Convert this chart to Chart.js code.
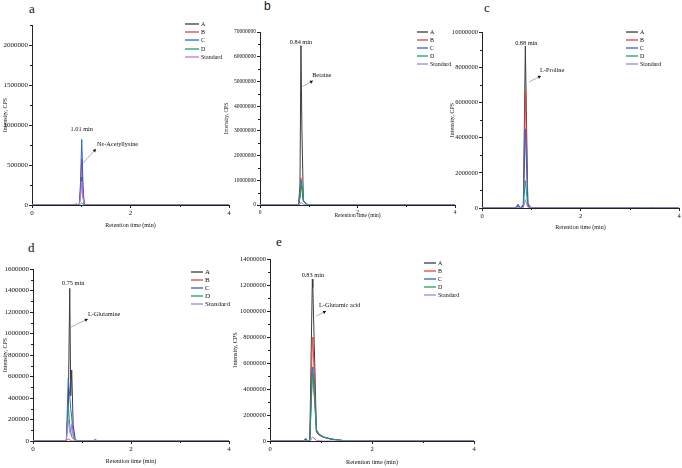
<!DOCTYPE html>
<html><head><meta charset="utf-8">
<script src="https://cdn.jsdelivr.net/npm/chart.js@4.4.0/dist/chart.umd.min.js"></script>
<style>
html,body{margin:0;padding:0;background:#fff;width:682px;height:468px;overflow:hidden;position:relative;font-family:'Liberation Serif',serif}
canvas{position:absolute}
.lbl{position:absolute;font-family:'Liberation Serif',serif;font-size:13px;color:#111;line-height:1}
</style></head><body>
<div class="lbl" style="left:29px;top:2px">a</div>
<div class="lbl" style="left:264px;top:0px;font-family:'Liberation Sans',sans-serif;font-size:12px">b</div>
<div class="lbl" style="left:484px;top:1px">c</div>
<div class="lbl" style="left:28px;top:241px">d</div>
<div class="lbl" style="left:276px;top:235px">e</div>
<script>
// ---- series names ----
const names = ['A', 'B', 'C', 'D', 'Standard'];
const xTicks = [0, 2, 4];

// ---- panel a : Nε-Acetyllysine ----
const timeA = [0, 0.86, 0.9, 0.93, 0.96, 0.985, 1.01, 1.035, 1.06, 1.09, 4];
const aA = [0, 0, 15000, 0, 0, 120000, 350000, 110000, 0, 0, 0];
const aB = [0, 0, 0, 0, 0, 190000, 570000, 180000, 0, 0, 0];
const aC = [0, 0, 0, 0, 0, 280000, 820000, 260000, 0, 0, 0];
const aD = [0, 0, 0, 0, 0, 10000, 25000, 10000, 0, 0, 0];
const aS = [0, 0, 0, 0, 0, 100000, 300000, 100000, 0, 0, 0];
const yTicksA = [0, 500000, 1000000, 1500000, 2000000];

// ---- panel b : Betaine ----
const timeB = [0, 0.79, 0.82, 0.84, 0.86, 0.89, 0.92, 0.96, 1.0, 1.1, 4];
const bA = [0, 0, 8e6, 64.5e6, 30e6, 1.5e6, 0.8e6, 0.3e6, 0.1e6, 0, 0];
const bB = [0, 0, 4e6, 11e6, 6e6, 1.8e6, 1.0e6, 0.3e6, 0.1e6, 0, 0];
const bC = [0, 0, 3e6, 9.8e6, 7e6, 1.6e6, 0.9e6, 0.3e6, 0.1e6, 0, 0];
const bD = [0, 0, 3e6, 9e6, 8e6, 2e6, 1e6, 0.3e6, 0.1e6, 0, 0];
const bS = [0, 0, 0.3e6, 1e6, 0.8e6, 0.3e6, 0.1e6, 0, 0, 0, 0];
const yTicksB = [0, 10000000, 20000000, 30000000, 40000000, 50000000, 60000000, 70000000];

// ---- panel c : L-Proline ----
const timeC = [0, 0.68, 0.73, 0.78, 0.84, 0.88, 0.93, 0.97, 1.05, 3.05, 3.1, 3.15, 3.4, 3.45, 3.5, 4];
const cA = [0, 0, 150000, 0, 200000, 9200000, 300000, 60000, 0, 0, 0, 0, 0, 0, 0, 0];
const cB = [0, 0, 100000, 0, 150000, 6700000, 250000, 50000, 0, 0, 0, 0, 0, 40000, 0, 0];
const cC = [0, 0, 220000, 0, 120000, 4500000, 200000, 40000, 0, 0, 30000, 0, 0, 0, 0, 0];
const cD = [0, 0, 80000, 0, 60000, 1550000, 100000, 20000, 0, 0, 0, 0, 0, 0, 0, 0];
const cS = [0, 0, 50000, 0, 20000, 480000, 40000, 10000, 0, 0, 0, 0, 0, 0, 0, 0];
const yTicksC = [0, 2000000, 4000000, 6000000, 8000000, 10000000];

// ---- panel d : L-Glutamine ----
const timeD = [0, 0.68, 0.72, 0.75, 0.77, 0.79, 0.82, 0.86, 0.9, 0.95, 1.22, 1.27, 1.32, 4];
const dA = [0, 0, 300000, 1420000, 420000, 660000, 150000, 20000, 0, 0, 0, 0, 0, 0];
const dB = [0, 0, 20000, 10000, 5000, 0, 0, 0, 0, 0, 0, 0, 0, 0];
const dC = [0, 0, 580000, 420000, 300000, 220000, 60000, 10000, 0, 0, 0, 0, 0, 0];
const dD = [0, 0, 330000, 150000, 80000, 40000, 20000, 10000, 5000, 0, 0, 15000, 0, 0];
const dS = [0, 0, 200000, 80000, 60000, 160000, 40000, 10000, 0, 0, 0, 0, 0, 0];
const yTicksD = [0, 200000, 400000, 600000, 800000, 1000000, 1200000, 1400000, 1600000];

// ---- panel e : L-Glutamic acid ----
const timeE = [0, 0.66, 0.7, 0.74, 0.78, 0.83, 0.84, 0.91, 0.96, 1.05, 1.2, 1.4, 1.6, 4];
const eA = [0, 0, 200000, 0, 0, 12450000, 11800000, 800000, 500000, 300000, 150000, 50000, 0, 0];
const eB = [0, 0, 100000, 0, 0, 7600000, 8000000, 700000, 450000, 280000, 140000, 40000, 0, 0];
const eC = [0, 0, 80000, 0, 0, 5400000, 5700000, 750000, 480000, 290000, 140000, 40000, 0, 0];
const eD = [0, 0, 60000, 0, 0, 4900000, 5200000, 900000, 550000, 320000, 160000, 50000, 0, 0];
const eS = [0, 0, 0, 0, 0, 280000, 300000, 60000, 20000, 0, 0, 0, 0, 0];
const yTicksE = [0, 2000000, 4000000, 6000000, 8000000, 10000000, 12000000, 14000000];

const colors = ['#3c3c3c', '#e2413f', '#2a62d6', '#1f9e68', '#b27be6'];
const FONT = "'Liberation Serif', serif";

const panels = [
  { canvas:{x:0,y:18,w:232,h:214}, area:{l:32,t:25,r:229,b:205}, time:timeA, series:[aA,aB,aC,aD,aS],
    yMax:2250000, yTicks:yTicksA, yMinor:250000, tickFont:7, titleFont:6, xTitleC:225, yTitleC:5,
    legend:{x:185,y:24,dy:8.2,len:14,font:6},
    ann:{peak:[1.01,940000,'1.01 min'], name:[1.32,760000,'Nε-Acetyllysine'], arrow:[1.035,525000,1.30,700000]} },
  { canvas:{x:222,y:18,w:240,h:205}, area:{l:260,t:32,r:455,b:205}, time:timeB, series:[bA,bB,bC,bD,bS],
    yMax:70000000, yTicks:yTicksB, yMinor:5000000, tickFont:5.5, titleFont:5.5, xTitleC:216, yTitleC:227,
    legend:{x:417,y:32,dy:8,len:11,font:6},
    ann:{peak:[0.84,66000000,'0.84 min'], name:[1.07,52600000,'Betaine'], arrow:[0.876,47900000,1.087,50300000]} },
  { canvas:{x:447,y:18,w:235,h:215}, area:{l:482,t:32,r:679,b:208}, time:timeC, series:[cA,cB,cC,cD,cS],
    yMax:10000000, yTicks:yTicksC, yMinor:1000000, tickFont:6.5, titleFont:6, xTitleC:227, yTitleC:452,
    legend:{x:626,y:32,dy:8,len:12,font:6},
    ann:{peak:[0.9,9375000,'0.88 min'], name:[1.18,7840000,'L-Proline'], arrow:[0.954,7160000,1.198,7500000]} },
  { canvas:{x:0,y:240,w:236,h:228}, area:{l:33,t:269,r:229,b:441}, time:timeD, series:[dA,dB,dC,dD,dS],
    yMax:1600000, yTicks:yTicksD, yMinor:100000, tickFont:7, titleFont:6, xTitleC:461, yTitleC:5,
    legend:{x:191,y:272,dy:8,len:12,font:7},
    ann:{peak:[0.82,1470000,'0.75 min'], name:[1.12,1180000,'L-Glutamine'], arrow:[0.776,1060000,1.12,1135000]} },
  { canvas:{x:228,y:240,w:254,h:228}, area:{l:270,t:259,r:474,b:441}, time:timeE, series:[eA,eB,eC,eD,eS],
    yMax:14000000, yTicks:yTicksE, yMinor:1000000, tickFont:6.5, titleFont:6.2, xTitleC:462, yTitleC:235,
    legend:{x:424,y:263,dy:8,len:12,font:6},
    ann:{peak:[0.84,12770000,'0.83 min'], name:[0.96,10460000,'L-Glutamic acid'], arrow:[0.90,9600000,1.10,10000000]} }
];

const overlay = {
  id: 'overlay',
  afterDraw(chart) {
    const o = chart.options.plugins.overlay;
    const p = o.p;
    const ctx = chart.ctx, xs = chart.scales.x, ys = chart.scales.y;
    const ca = chart.chartArea;
    ctx.save();
    // minor ticks
    ctx.strokeStyle = '#222'; ctx.lineWidth = 1;
    for (let v = p.yMinor; v <= p.yMax + 1; v += p.yMinor * 2) {
      const py = Math.round(ys.getPixelForValue(v)) + 0.5;
      ctx.beginPath(); ctx.moveTo(ca.left - 2, py); ctx.lineTo(ca.left, py); ctx.stroke();
    }
    for (const v of [1, 3]) {
      const px = Math.round(xs.getPixelForValue(v)) + 0.5;
      ctx.beginPath(); ctx.moveTo(px, ca.bottom); ctx.lineTo(px, ca.bottom + 2); ctx.stroke();
    }
    // annotations
    const a = p.ann;
    ctx.fillStyle = '#111';
    ctx.font = '6.3px ' + FONT;
    ctx.textAlign = 'center'; ctx.textBaseline = 'middle';
    ctx.fillText(a.peak[2], xs.getPixelForValue(a.peak[0]), ys.getPixelForValue(a.peak[1]));
    ctx.textAlign = 'left';
    ctx.fillText(a.name[2], xs.getPixelForValue(a.name[0]), ys.getPixelForValue(a.name[1]));
    const x1 = xs.getPixelForValue(a.arrow[0]), y1 = ys.getPixelForValue(a.arrow[1]);
    const x2 = xs.getPixelForValue(a.arrow[2]), y2 = ys.getPixelForValue(a.arrow[3]);
    ctx.strokeStyle = '#9a9a9a'; ctx.lineWidth = 0.8;
    ctx.beginPath(); ctx.moveTo(x1, y1); ctx.lineTo(x2, y2); ctx.stroke();
    const ang = Math.atan2(y2 - y1, x2 - x1);
    ctx.fillStyle = '#111';
    ctx.beginPath();
    ctx.moveTo(x2, y2);
    ctx.lineTo(x2 - 3.5 * Math.cos(ang - 0.5), y2 - 3.5 * Math.sin(ang - 0.5));
    ctx.lineTo(x2 - 3.5 * Math.cos(ang + 0.5), y2 - 3.5 * Math.sin(ang + 0.5));
    ctx.closePath(); ctx.fill();
    // legend
    const L = p.legend;
    ctx.font = L.font + 'px ' + FONT;
    ctx.textAlign = 'left'; ctx.textBaseline = 'middle';
    names.forEach((n, i) => {
      const lx = L.x - p.canvas.x, ly = Math.round(L.y - p.canvas.y + i * L.dy);
      ctx.strokeStyle = colors[i]; ctx.lineWidth = 1.3;
      ctx.beginPath(); ctx.moveTo(lx, ly); ctx.lineTo(lx + L.len, ly); ctx.stroke();
      ctx.fillStyle = '#111';
      ctx.fillText(n, lx + L.len + 2, ly);
    });
    ctx.restore();
  }
};

panels.forEach(p => {
  const c = document.createElement('canvas');
  c.width = p.canvas.w; c.height = p.canvas.h;
  c.style.left = p.canvas.x + 'px'; c.style.top = p.canvas.y + 'px';
  c.style.width = p.canvas.w + 'px'; c.style.height = p.canvas.h + 'px';
  document.body.appendChild(c);
  const yW = p.area.l - p.canvas.x;
  const xH = p.canvas.y + p.canvas.h - p.area.b;
  const tlh = p.titleFont * 1.2;
  const xTitlePad = Math.max(0, (p.canvas.y + p.canvas.h - p.xTitleC) - tlh / 2);
  const yTitlePad = Math.max(0, (p.yTitleC - p.canvas.x) - tlh / 2);
  new Chart(c, {
    type: 'line',
    data: {
      datasets: p.series.map((s, i) => ({
        label: names[i],
        data: p.time.map((t, j) => ({ x: t, y: s[j] })),
        borderColor: colors[i], borderWidth: 1, pointRadius: 0, tension: 0, fill: false,
        order: 4 - i
      }))
    },
    options: {
      responsive: false, animation: false, devicePixelRatio: 1,
      layout: { padding: { left: 0, bottom: 0, top: p.area.t - p.canvas.y, right: p.canvas.x + p.canvas.w - p.area.r } },
      plugins: { legend: { display: false }, tooltip: { enabled: false }, overlay: { p } },
      scales: {
        x: {
          type: 'linear', min: 0, max: 4,
          afterBuildTicks: s => { s.ticks = xTicks.map(v => ({ value: v })); },
          afterFit: s => { s.height = xH; },
          ticks: { font: { family: FONT, size: p.tickFont }, color: '#111', padding: 1, maxRotation: 0, autoSkip: false, callback: v => String(v) },
          grid: { drawOnChartArea: false, tickLength: 3, color: '#222' },
          border: { color: '#222', width: 1 },
          title: { display: true, text: 'Retention time (min)', color: '#111', font: { family: FONT, size: p.titleFont }, padding: { top: 0, bottom: xTitlePad } }
        },
        y: {
          type: 'linear', min: 0, max: p.yMax,
          afterBuildTicks: s => { s.ticks = p.yTicks.map(v => ({ value: v })); },
          afterFit: s => { s.width = yW; },
          ticks: { font: { family: FONT, size: p.tickFont }, color: '#111', padding: 1, autoSkip: false, callback: v => String(v) },
          grid: { drawOnChartArea: false, tickLength: 3, color: '#222' },
          border: { color: '#222', width: 1 },
          title: { display: true, text: 'Intensity, CPS', color: '#111', font: { family: FONT, size: p.titleFont }, padding: { top: yTitlePad, bottom: 0 } }
        }
      }
    },
    plugins: [overlay]
  });
});
</script>
</body></html>
